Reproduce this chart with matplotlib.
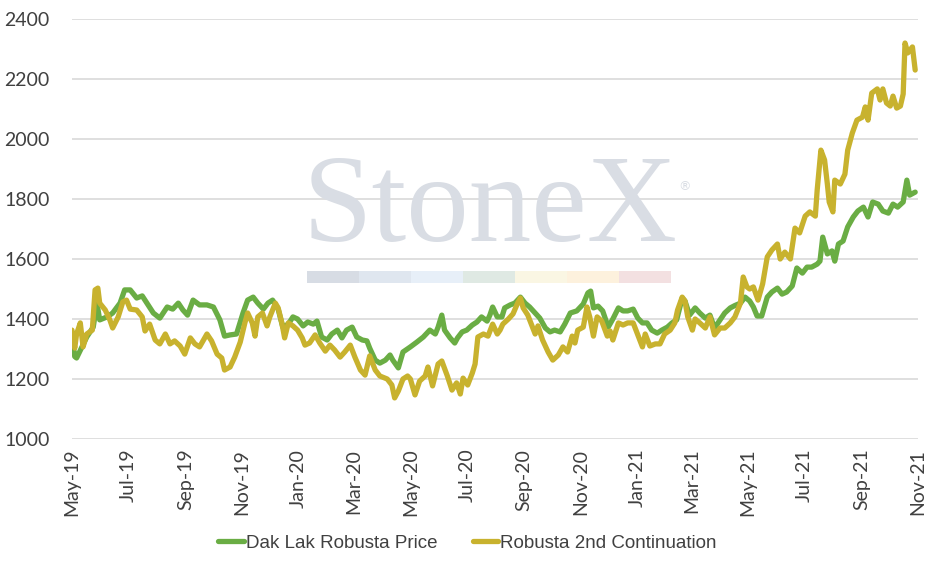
import pandas as pd
import matplotlib
matplotlib.use("Agg")
import matplotlib.pyplot as plt
import matplotlib.dates as mdates
from matplotlib.patches import Rectangle

# ========== data: days since 2019-05-01, price ==========
START = pd.Timestamp("2019-05-01")

dak_days = [0, 3, 5, 16, 23, 27, 30, 38, 44, 52, 57, 63, 70, 76, 81, 88, 95, 103, 109, 115,
            120, 125, 131, 138, 146, 153, 160, 165, 171, 178, 185, 190, 196, 201, 207, 212, 217,
            223, 228, 234, 239, 244, 250, 255, 261, 265, 270, 276, 281, 287, 292, 297, 303, 308,
            314, 319, 322, 328, 333, 339, 344, 347, 353, 358, 366, 373, 380, 387, 393, 396, 400,
            403, 409, 414, 417, 422, 427, 433, 438, 443, 449, 452, 455, 460, 465, 468, 474, 479,
            485, 490, 495, 501, 506, 512, 517, 522, 528, 533, 539, 546, 553, 558, 561, 564, 569,
            574, 580, 585, 591, 596, 601, 607, 612, 617, 622, 627, 633, 638, 644, 649, 654, 660,
            663, 668, 674, 679, 685, 690, 695, 701, 706, 712, 717, 723, 728, 733, 737, 741, 746,
            752, 757, 763, 768, 773, 779, 784, 790, 795, 800, 806, 809, 812, 817, 822, 825, 829,
            834, 839, 845, 850, 856, 861, 866, 872, 877, 883, 888, 893, 899, 903, 906, 912]
dak_price = [1345, 1275, 1270, 1340, 1373, 1453, 1397, 1407, 1420, 1453, 1497, 1497, 1470, 1477,
             1453, 1420, 1403, 1440, 1433, 1453, 1430, 1413, 1463, 1447, 1447, 1440, 1397, 1343,
             1347, 1350, 1420, 1463, 1473, 1453, 1433, 1453, 1463, 1433, 1373, 1383, 1407, 1400,
             1377, 1390, 1383, 1393, 1340, 1330, 1350, 1363, 1337, 1363, 1373, 1340, 1330, 1327,
             1303, 1263, 1253, 1263, 1280, 1263, 1237, 1290, 1307, 1323, 1340, 1363, 1350, 1373,
             1413, 1363, 1337, 1320, 1337, 1357, 1363, 1380, 1390, 1407, 1393, 1413, 1440, 1407,
             1407, 1437, 1447, 1453, 1473, 1453, 1440, 1420, 1403, 1370, 1357, 1363, 1357, 1383,
             1420, 1427, 1450, 1487, 1493, 1437, 1443, 1427, 1373, 1400, 1437, 1427, 1427, 1433,
             1403, 1387, 1387, 1363, 1353, 1363, 1373, 1387, 1397, 1470, 1460, 1413, 1437, 1420,
             1403, 1413, 1370, 1397, 1420, 1437, 1445, 1453, 1473, 1460, 1440, 1410, 1410, 1473,
             1490, 1503, 1483, 1490, 1510, 1570, 1553, 1573, 1573, 1583, 1593, 1673, 1617, 1627,
             1593, 1650, 1660, 1707, 1740, 1760, 1773, 1740, 1790, 1783, 1760, 1753, 1783, 1773,
             1790, 1863, 1813, 1823]

rob_days = [0, 3, 5, 9, 12, 16, 22, 25, 28, 30, 36, 41, 44, 50, 55, 59, 63, 70, 76, 79, 84, 90,
            95, 101, 106, 111, 117, 122, 128, 133, 138, 146, 151, 157, 162, 165, 171, 176, 182,
            187, 190, 195, 198, 201, 206, 211, 214, 220, 223, 227, 230, 234, 239, 244, 249, 252,
            257, 263, 268, 274, 279, 284, 290, 295, 301, 306, 312, 317, 322, 328, 333, 341, 346,
            349, 353, 358, 363, 366, 371, 376, 382, 385, 390, 396, 400, 406, 411, 416, 420, 423,
            428, 433, 436, 439, 445, 450, 455, 460, 463, 466, 472, 477, 482, 485, 488, 493, 498,
            501, 504, 509, 515, 520, 526, 531, 536, 541, 544, 547, 553, 557, 560, 564, 568, 573,
            579, 582, 585, 591, 596, 601, 607, 612, 617, 620, 625, 631, 636, 641, 647, 652, 655,
            660, 663, 666, 671, 674, 679, 685, 690, 695, 701, 706, 712, 717, 723, 726, 730, 733,
            737, 742, 747, 752, 757, 763, 766, 771, 777, 782, 787, 793, 798, 804, 806, 810, 814,
            817, 819, 823, 825, 831, 836, 839, 844, 849, 855, 858, 861, 865, 871, 874, 877, 881,
            885, 888, 892, 896, 899, 901, 904, 909, 912]
rob_price = [1363, 1303, 1350, 1387, 1307, 1350, 1363, 1497, 1503, 1453, 1430, 1397, 1370, 1407,
             1457, 1463, 1433, 1430, 1407, 1360, 1383, 1330, 1317, 1350, 1317, 1327, 1310, 1283,
             1337, 1317, 1307, 1350, 1327, 1283, 1270, 1230, 1240, 1273, 1323, 1387, 1420, 1387,
             1343, 1407, 1420, 1377, 1407, 1453, 1437, 1387, 1337, 1387, 1377, 1363, 1337, 1313,
             1320, 1347, 1320, 1293, 1313, 1297, 1273, 1290, 1313, 1273, 1230, 1213, 1277, 1230,
             1210, 1200, 1180, 1137, 1160, 1200, 1210, 1200, 1147, 1193, 1210, 1240, 1177, 1250,
             1260, 1210, 1163, 1187, 1150, 1203, 1180, 1220, 1250, 1340, 1350, 1343, 1383, 1350,
             1363, 1383, 1400, 1417, 1453, 1470, 1437, 1413, 1373, 1350, 1377, 1330, 1290, 1263,
             1280, 1307, 1290, 1343, 1320, 1363, 1373, 1440, 1407, 1343, 1407, 1393, 1343, 1360,
             1330, 1387, 1380, 1387, 1387, 1347, 1307, 1350, 1310, 1317, 1317, 1350, 1363, 1387,
             1430, 1473, 1460, 1407, 1363, 1400, 1387, 1370, 1407, 1347, 1370, 1370, 1387, 1407,
             1453, 1540, 1507, 1500, 1507, 1463, 1517, 1607, 1630, 1650, 1600, 1623, 1600, 1703,
             1687, 1743, 1757, 1743, 1830, 1963, 1930, 1850, 1790, 1757, 1863, 1850, 1883, 1963,
             2020, 2063, 2073, 2107, 2063, 2153, 2167, 2130, 2167, 2120, 2110, 2143, 2103, 2110,
             2150, 2320, 2287, 2307, 2230]

labels = ["Dak Lak Robusta Price", "Robusta 2nd Continuation"]
colors = ["#6aad44", "#c8b22e"]

dak_dates = START + pd.to_timedelta(dak_days, unit="D")
rob_dates = START + pd.to_timedelta(rob_days, unit="D")

# ========== figure ==========
fig = plt.figure(figsize=(9.31, 5.68), dpi=100)
ax = fig.add_axes([0.0773, 0.2271, 0.9087, 0.7394])

# watermark
fig.text(0.526, 0.628, "StoneX", ha="center", va="center", fontsize=90,
         family="Liberation Serif", color="#d9dde4", zorder=0)
fig.text(0.735, 0.672, "\u00ae", ha="center", va="center", fontsize=9,
         family="DejaVu Sans", color="#d9dde4", zorder=0)
bar_cols = ["#d7dce4", "#dfe6ef", "#e7eff8", "#dfe9e3", "#faf6e3", "#fdf1dd", "#f3e0e1"]
seg_w = (671 - 307) / 931 / len(bar_cols)
for i, c in enumerate(bar_cols):
    fig.patches.append(Rectangle((307 / 931 + i * seg_w, 1 - 283 / 568), seg_w, 12 / 568,
                                 transform=fig.transFigure, facecolor=c, edgecolor="none",
                                 zorder=0))

ax.set_facecolor("none")
ax.plot(dak_dates, dak_price, color=colors[0], lw=3.8, label=labels[0],
        solid_joinstyle="round", solid_capstyle="round", zorder=3)
ax.plot(rob_dates, rob_price, color=colors[1], lw=3.8, label=labels[1],
        solid_joinstyle="round", solid_capstyle="round", zorder=4)

ax.set_ylim(1000, 2400)
ax.set_yticks(range(1000, 2401, 200))
ax.set_xlim(pd.Timestamp("2019-05-01"), pd.Timestamp("2021-11-01"))
ax.xaxis.set_major_locator(mdates.MonthLocator(bymonth=[1, 3, 5, 7, 9, 11]))
ax.xaxis.set_major_formatter(mdates.DateFormatter("%b-%y"))
ax.grid(axis="y", color="#d9d9d9", lw=1.2, zorder=1)
for s in ax.spines.values():
    s.set_visible(False)
ax.tick_params(axis="both", length=0, labelsize=14, labelcolor="#404040")
ax.tick_params(axis="y", pad=16)
ax.tick_params(axis="x", pad=7)
for lab in ax.get_xticklabels():
    lab.set_rotation(90)
    lab.set_family("Lato")
for lab in ax.get_yticklabels():
    lab.set_family("Lato")

leg = fig.legend(loc="center", bbox_to_anchor=(0.502, 1 - 543 / 568), ncol=2, frameon=False,
                 handlelength=1.35, handletextpad=0.1, columnspacing=1.9,
                 prop={"family": "Liberation Sans", "size": 13.5})
for t in leg.get_texts():
    t.set_color("#404040")

fig.savefig("out.png", dpi=100)
